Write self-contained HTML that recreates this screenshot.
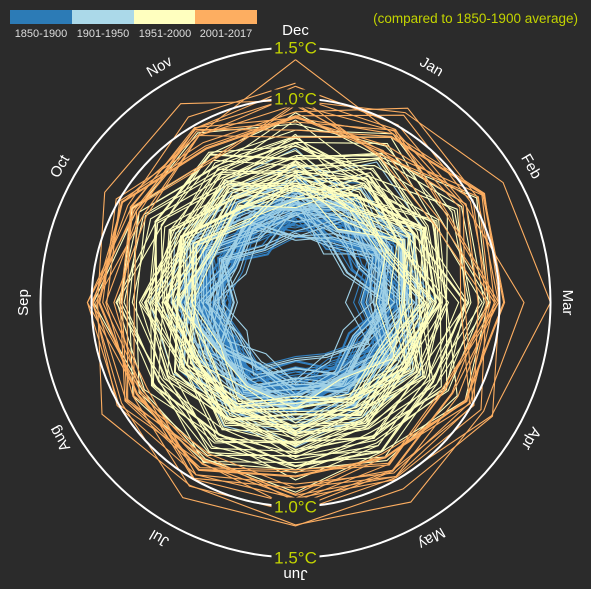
<!DOCTYPE html>
<html><head><meta charset="utf-8">
<style>
html,body{margin:0;padding:0;background:#2b2b2b;}
svg{display:block;font-family:"Liberation Sans",sans-serif;}
</style></head>
<body>
<svg id="chart" width="591" height="589" viewBox="0 0 591 589">
<rect width="591" height="589" fill="#2b2b2b"/>
<g id="legend">
  <rect x="10" y="10" width="62" height="14" fill="#2c7bb6"/>
  <rect x="72" y="10" width="62" height="14" fill="#abd9e9"/>
  <rect x="134" y="10" width="61" height="14" fill="#ffffbf"/>
  <rect x="195" y="10" width="62" height="14" fill="#fdae61"/>
  <text x="41" y="37" fill="#dddddd" font-size="11" text-anchor="middle">1850-1900</text>
  <text x="103" y="37" fill="#dddddd" font-size="11" text-anchor="middle">1901-1950</text>
  <text x="165" y="37" fill="#dddddd" font-size="11" text-anchor="middle">1951-2000</text>
  <text x="226" y="37" fill="#dddddd" font-size="11" text-anchor="middle">2001-2017</text>
</g>
<text x="578" y="23" fill="#c3d400" font-size="13.5" text-anchor="end">(compared to 1850-1900 average)</text>
<g id="lines"></g>
<g id="axes"></g>
</svg>
<script>
const months = ["Jan","Feb","Mar","Apr","May","Jun","Jul","Aug","Sep","Oct","Nov","Dec"];
const startYear = 1850;
const annualAnomaly = [-0.37,-0.22,-0.23,-0.27,-0.29,-0.30,-0.32,-0.47,-0.39,-0.28,-0.39,-0.43,-0.53,-0.35,-0.48,-0.33,-0.34,-0.36,-0.33,-0.28,
-0.33,-0.37,-0.32,-0.33,-0.38,-0.39,-0.38,-0.11,0.00,-0.25,-0.32,-0.27,-0.29,-0.35,-0.45,-0.41,-0.37,-0.42,-0.30,-0.21,
-0.40,-0.36,-0.42,-0.42,-0.37,-0.37,-0.18,-0.18,-0.34,-0.24,-0.15,-0.23,-0.35,-0.43,-0.51,-0.38,-0.31,-0.47,-0.50,-0.50,
-0.47,-0.49,-0.42,-0.41,-0.22,-0.17,-0.39,-0.44,-0.31,-0.28,-0.28,-0.20,-0.30,-0.28,-0.29,-0.21,-0.11,-0.21,-0.21,-0.35,
-0.15,-0.10,-0.16,-0.29,-0.13,-0.19,-0.14,-0.03,-0.01,-0.02,0.04,0.05,0.00,0.00,0.13,0.03,-0.07,-0.05,-0.06,-0.08,
-0.17,-0.03,0.01,0.08,-0.13,-0.13,-0.19,0.05,0.06,0.03,-0.03,0.06,0.04,0.05,-0.20,-0.11,-0.06,-0.02,-0.08,0.05,
0.03,-0.08,0.01,0.16,-0.07,-0.01,-0.10,0.18,0.07,0.16,0.26,0.32,0.14,0.31,0.16,0.12,0.18,0.33,0.40,0.27,
0.45,0.41,0.22,0.23,0.32,0.45,0.33,0.52,0.63,0.49,0.45,0.61,0.65,0.64,0.59,0.69,0.63,0.66,0.54,0.64,
0.72,0.61,0.65,0.67,0.74,0.90,1.01,0.85];
const baselineShift = 0.20;
const monthDeviation = [
[0.15,-0.08,0.18,-0.12,0.03,-0.15,0.08,0.12,-0.09,0.05,-0.18,0.14],
[-0.18,0.22,0.06,0.09,-0.14,0.03,-0.06,-0.10,0.15,-0.03,0.09,-0.08],
[0.08,0.03,-0.21,0.14,0.10,-0.05,0.12,-0.15,0.02,0.16,-0.06,0.00],
[0.26,0.12,0.05,-0.16,-0.03,0.09,-0.12,0.06,0.10,-0.14,0.03,0.18],
[-0.09,-0.18,0.14,0.03,0.16,0.08,-0.03,0.09,-0.16,0.06,0.15,-0.12],
[0.03,0.28,0.20,0.08,-0.09,-0.14,0.05,-0.05,0.08,0.12,-0.10,-0.03],
[-0.14,0.09,-0.05,0.18,0.06,0.14,0.16,-0.08,-0.06,-0.15,0.05,0.10]];
const special2016 = [1.15,1.35,1.50,1.22,1.00,0.92,0.95,1.02,0.98,0.96,0.90,1.38];
const ringValues = [1.0,1.5];
const ringLabels = ["1.0°C","1.5°C"];

const cx=295.5, cy=302.5;
function rScale(t){return 102 + 102*t;}
function angle(m){return (m+1)*30*Math.PI/180;}
function pt(m,t){const a=angle(m),r=rScale(t);return [cx+r*Math.sin(a),cy-r*Math.cos(a)];}
function color(y){return y<=1900?"#3380c0":y<=1950?"#9fd0e6":y<=2000?"#ffffbf":"#fdae61";}
function value(i,m){
  const y=startYear+i;
  if(y===2016) return special2016[m];
  return annualAnomaly[i]+baselineShift+monthDeviation[i%monthDeviation.length][m];
}
const NS="http://www.w3.org/2000/svg";
const gl=document.getElementById('lines');
for(let i=0;i<annualAnomaly.length;i++){
  const pts=[];
  if(i>0) pts.push(pt(11,value(i-1,11)));
  for(let m=0;m<12;m++) pts.push(pt(m,value(i,m)));
  const pl=document.createElementNS(NS,'polyline');
  pl.setAttribute('points',pts.map(p=>p[0].toFixed(1)+','+p[1].toFixed(1)).join(' '));
  pl.setAttribute('fill','none');
  pl.setAttribute('stroke',color(startYear+i));
  pl.setAttribute('stroke-width','1.1');
  
  
  gl.appendChild(pl);
}
const ga=document.getElementById('axes');
ringValues.forEach((v,k)=>{
  const c=document.createElementNS(NS,'circle');
  c.setAttribute('cx',cx);c.setAttribute('cy',cy);c.setAttribute('r',rScale(v));
  c.setAttribute('fill','none');c.setAttribute('stroke','#ffffff');c.setAttribute('stroke-width','2');
  
  
  ga.appendChild(c);
  [-1,1].forEach(s=>{
    const yy=cy+s*rScale(v);
    const bg=document.createElementNS(NS,'rect');
    bg.setAttribute('x',cx-24);bg.setAttribute('y',yy-9);bg.setAttribute('width',48);bg.setAttribute('height',18);
    bg.setAttribute('fill','#2b2b2b');
    
    
    ga.appendChild(bg);
    const t=document.createElementNS(NS,'text');
    t.setAttribute('x',cx);t.setAttribute('y',yy+6);t.setAttribute('text-anchor','middle');
    t.setAttribute('fill','#c3d400');t.setAttribute('font-size','17');
    t.textContent=ringLabels[k];
    
    
    ga.appendChild(t);
  });
});
months.forEach((name,m)=>{
  const a=angle(m), r=272;
  const x=cx+r*Math.sin(a), y=cy-r*Math.cos(a);
  const t=document.createElementNS(NS,'text');
  t.setAttribute('x',x);t.setAttribute('y',y);
  t.setAttribute('text-anchor','middle');t.setAttribute('dominant-baseline','central');
  t.setAttribute('fill','#ffffff');t.setAttribute('font-size','15');
  t.setAttribute('transform','rotate('+((m+1)*30)+' '+x+' '+y+')');
  t.textContent=name;
  
  
  ga.appendChild(t);
});
</script>
</body></html>
